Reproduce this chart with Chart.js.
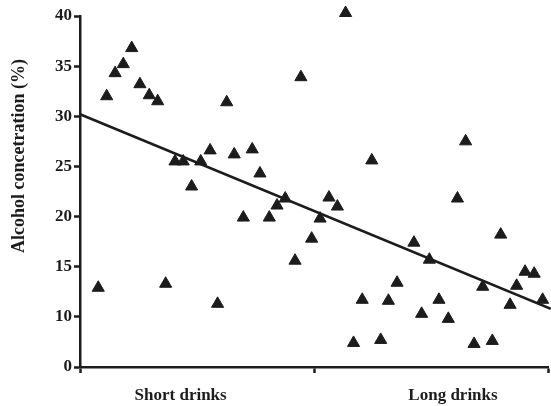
<!DOCTYPE html>
<html>
<head>
<meta charset="utf-8">
<script src="https://cdn.jsdelivr.net/npm/chart.js@4.4.1/dist/chart.umd.min.js"></script>
<style>
  html, body { margin: 0; padding: 0; background: #fff; }
  #wrap { width: 551px; height: 406px; position: relative; }
</style>
</head>
<body>
<div id="wrap"><canvas id="c"></canvas></div>
<script>
// ---- data ----
const categories = ["Short drinks", "Long drinks"];
const categoryLabelPos = [0.43, 1.594];
const yTickValues = [5, 10, 15, 20, 25, 30, 35, 40];
const yTickLabels = ["0", "10", "15", "20", "25", "30", "35", "40"];
const yTitle = "Alcohol concetration (%)";

const shortX = [0.221, 0.185, 0.150, 0.256, 0.114, 0.296, 0.332, 0.406, 0.441, 0.516, 0.477, 0.078, 0.366,
                0.627, 0.556, 0.659, 0.736, 0.769, 0.698, 0.809, 0.877, 0.842, 0.944, 0.919, 0.990, 0.588];
const shortY = [36.8, 35.2, 34.3, 33.2, 32.0, 32.1, 31.5, 25.5, 25.5, 25.5, 23.0, 12.9, 13.3,
                31.4, 26.6, 26.2, 26.7, 24.3, 19.9, 19.9, 21.8, 21.1, 33.9, 15.6, 17.8, 11.3];
const longX = [1.026, 1.064, 1.100, 1.135, 1.169, 1.206, 1.247, 1.285, 1.318, 1.355, 1.427, 1.460, 1.493,
               1.534, 1.574, 1.613, 1.648, 1.684, 1.721, 1.762, 1.798, 1.838, 1.866, 1.902, 1.941, 1.977];
const longY = [19.8, 21.9, 21.0, 40.3, 7.4, 11.7, 25.6, 7.7, 11.6, 13.4, 17.4, 10.3, 15.7,
               11.7, 9.8, 21.8, 27.5, 7.3, 13.0, 7.6, 18.2, 11.2, 13.1, 14.5, 14.3, 11.7];
const trendX = [0, 2.012];
const trendY = [30.2, 10.8];

// ---- build chart ----
const toPts = (xs, ys) => xs.map((x, i) => ({ x: x, y: ys[i] }));
const INK = '#1c1c1c';
const SERIF = '"Liberation Serif", "DejaVu Serif", serif';

const yTitlePlugin = {
  id: 'yTitle',
  afterDraw(chart) {
    const ctx = chart.ctx;
    ctx.save();
    ctx.translate(19, 156);
    ctx.rotate(-Math.PI / 2);
    ctx.font = 'bold 18px ' + SERIF;
    ctx.fillStyle = INK;
    ctx.textAlign = 'center';
    ctx.textBaseline = 'middle';
    ctx.fillText(yTitle, 0, 0);
    ctx.restore();
  }
};

const pointStyleCommon = {
  pointStyle: 'triangle',
  pointRadius: 7,
  pointBackgroundColor: INK,
  pointBorderColor: INK,
  pointBorderWidth: 1,
  showLine: false,
  clip: false
};

new Chart(document.getElementById('c'), {
  type: 'scatter',
  data: {
    datasets: [
      Object.assign({ label: categories[0], data: toPts(shortX, shortY) }, pointStyleCommon),
      Object.assign({ label: categories[1], data: toPts(longX, longY) }, pointStyleCommon),
      {
        label: 'Trend',
        type: 'line',
        data: toPts(trendX, trendY),
        borderColor: INK,
        borderWidth: 2.5,
        pointRadius: 0,
        showLine: true,
        fill: false,
        clip: false
      }
    ]
  },
  options: {
    responsive: true,
    maintainAspectRatio: false,
    animation: false,
    devicePixelRatio: 1,
    layout: { autoPadding: false, padding: { top: 16, right: 3, left: 0, bottom: 0 } },
    plugins: { legend: { display: false }, tooltip: { enabled: false } },
    scales: {
      x: {
        type: 'linear',
        min: 0,
        max: 2,
        afterBuildTicks(scale) {
          scale.ticks = [0, categoryLabelPos[0], 1, categoryLabelPos[1], 2].map(v => ({ value: v }));
        },
        afterFit(scale) {
          scale.height = 39;
          scale.paddingLeft = 0;
          scale.paddingRight = 0;
        },
        border: { display: true, color: INK, width: 2.5 },
        grid: {
          drawOnChartArea: false,
          drawTicks: true,
          tickLength: 6,
          tickWidth: 2.5,
          tickColor: (ctx) => (ctx.tick && Number.isInteger(ctx.tick.value)) ? INK : 'rgba(0,0,0,0)'
        },
        ticks: {
          autoSkip: false,
          maxRotation: 0,
          padding: 12,
          color: INK,
          font: { family: SERIF, size: 17, weight: 'bold' },
          callback: (v) => {
            const i = categoryLabelPos.indexOf(v);
            return i >= 0 ? categories[i] : '';
          }
        }
      },
      y: {
        type: 'linear',
        min: 5,
        max: 40,
        afterBuildTicks(scale) {
          scale.ticks = yTickValues.map(v => ({ value: v }));
        },
        afterFit(scale) { scale.width = 80; },
        border: { display: true, color: INK, width: 2.5 },
        grid: {
          drawOnChartArea: false,
          drawTicks: true,
          tickLength: 6,
          tickWidth: 2.5,
          tickColor: INK
        },
        ticks: {
          autoSkip: false,
          padding: 2,
          color: INK,
          font: { family: SERIF, size: 17, weight: 'bold' },
          callback: (v) => {
            const i = yTickValues.indexOf(v);
            return i >= 0 ? yTickLabels[i] : '';
          }
        }
      }
    }
  },
  plugins: [yTitlePlugin]
});
</script>
</body>
</html>
